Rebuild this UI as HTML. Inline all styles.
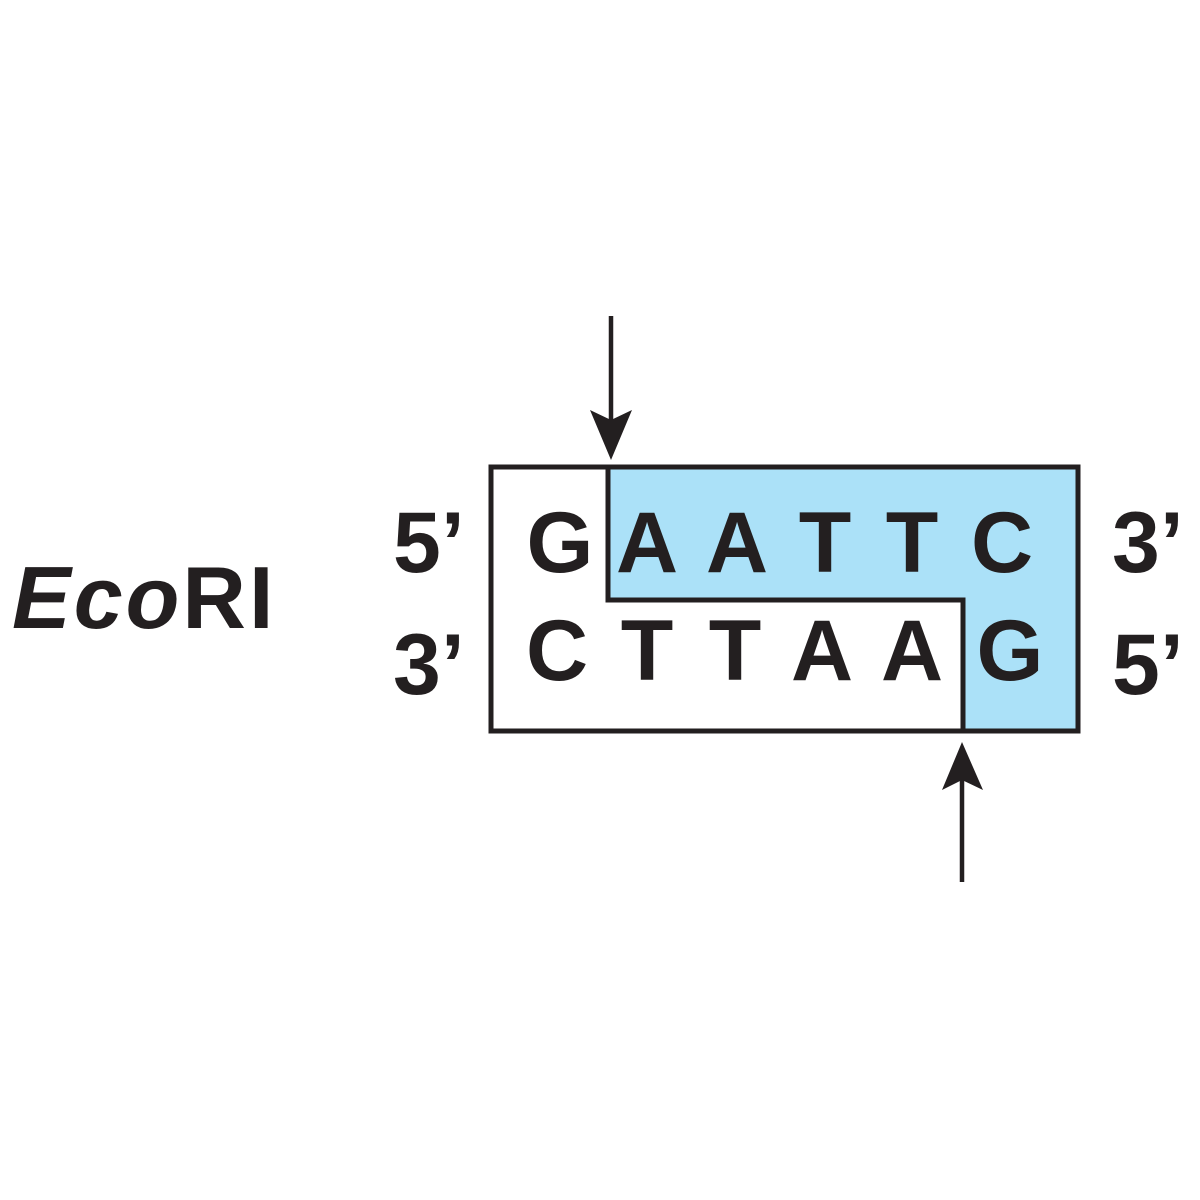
<!DOCTYPE html>
<html><head><meta charset="utf-8"><style>
html,body{margin:0;padding:0;background:#fff;}
svg{display:block;}
text{font-family:"Liberation Sans",Arial,sans-serif;font-weight:bold;fill:#231f20;}
</style></head><body>
<svg width="1200" height="1200" viewBox="0 0 1200 1200" xmlns="http://www.w3.org/2000/svg">
<rect width="1200" height="1200" fill="#fff"/>
<polygon points="608,467 1078,467 1078,731 963,731 963,600 608,600" fill="#abe1f8"/>
<rect x="491" y="467" width="587" height="264" fill="none" stroke="#231f20" stroke-width="5"/>
<polyline points="608,467 608,600 963,600 963,731" fill="none" stroke="#231f20" stroke-width="5"/>
<line x1="611" y1="316" x2="611" y2="420" stroke="#231f20" stroke-width="4.5"/>
<polygon points="611,460 590,410 611,420 632,410" fill="#231f20"/>
<line x1="962" y1="882" x2="962" y2="780" stroke="#231f20" stroke-width="4.5"/>
<polygon points="962,742 942,790 962,780 983,790" fill="#231f20"/>
<text x="12" y="628" font-size="88" letter-spacing="3"><tspan font-style="italic">Eco</tspan>RI</text>
<g font-size="86" text-anchor="middle">
<text x="560" y="572">G</text>
<text x="647" y="572">A</text>
<text x="737" y="572">A</text>
<text x="825" y="572">T</text>
<text x="912" y="572">T</text>
<text x="1002" y="572">C</text>
<text x="557" y="680">C</text>
<text x="647" y="680">T</text>
<text x="735" y="680">T</text>
<text x="822" y="680">A</text>
<text x="912" y="680">A</text>
<text x="1010" y="680">G</text>
</g>
<g font-size="86">
<text x="393" y="572">5’</text>
<text x="1112" y="572">3’</text>
<text x="393" y="694">3’</text>
<text x="1112" y="694">5’</text>
</g>
</svg>
</body></html>
